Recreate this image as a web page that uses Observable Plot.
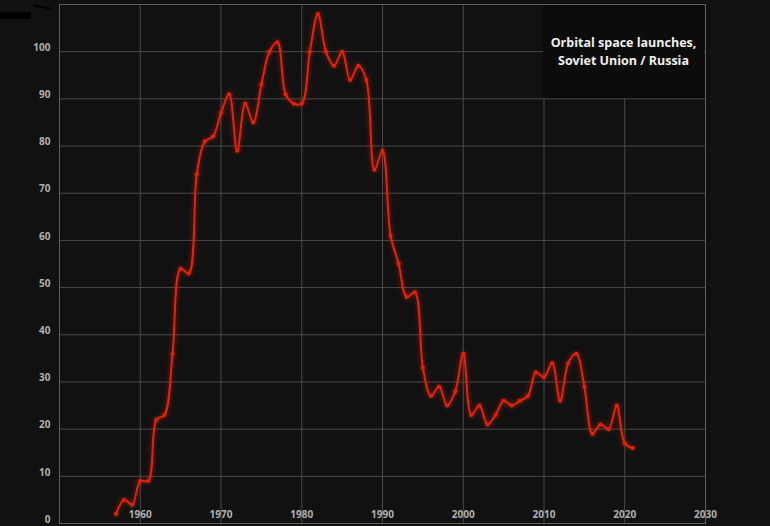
<!DOCTYPE html>
<html><head><meta charset="utf-8">
<script src="https://cdn.jsdelivr.net/npm/d3@7"></script>
<script src="https://cdn.jsdelivr.net/npm/@observablehq/plot@0.6"></script>
<style>
html,body{margin:0;padding:0;background:#111;}
#wrap{position:relative;width:770px;height:526px;overflow:hidden;background:#111;}
#title{position:absolute;left:543px;top:5px;width:161px;height:93px;background:#0c0c0c;color:#f0f0f0;font:bold 12.5px "Open Sans";display:flex;align-items:center;justify-content:center;text-align:center;line-height:18px;}
.blk1{position:absolute;left:0;top:12px;width:31px;height:7px;background:#000;}
.blk2{position:absolute;left:33px;top:6px;width:18px;height:2px;background:#000;transform:rotate(9deg);}
</style></head><body>
<div id="wrap"><div id="chart"></div><div class="blk1"></div><div class="blk2"></div><div id="title">Orbital space launches,<br>Soviet Union / Russia</div></div>
<script>
const years = [1957,1958,1959,1960,1961,1962,1963,1964,1965,1966,1967,1968,1969,1970,1971,1972,1973,1974,1975,1976,1977,1978,1979,1980,1981,1982,1983,1984,1985,1986,1987,1988,1989,1990,1991,1992,1993,1994,1995,1996,1997,1998,1999,2000,2001,2002,2003,2004,2005,2006,2007,2008,2009,2010,2011,2012,2013,2014,2015,2016,2017,2018,2019,2020,2021];
const launches = [2,5,4,9,9,22,23,36,54,53,74,81,82,87,91,79,89,85,93,100,102,91,89,89,100,108,100,97,100,94,97,94,75,79,61,55,48,49,33,27,29,25,28,36,23,25,21,23,26,25,26,27,32,31,34,26,34,36,29,19,21,20,25,17,16];
const xTicks = [1960,1970,1980,1990,2000,2010,2020,2030];
const yTicks = [0,10,20,30,40,50,60,70,80,90,100];
const gridX = [1950,1960,1970,1980,1990,2000,2010,2020,2030];
const gridY = [0,10,20,30,40,50,60,70,80,90,100,110];

const data = years.map((y,i)=>({year:y, n:launches[i]}));
const labelStyle = {fill:"#b0b0b0", fontSize:10, fontWeight:"bold", fontFamily:"Open Sans"};

const chart = Plot.plot({
  width:770, height:526,
  marginLeft:59, marginRight:65, marginTop:4, marginBottom:3,
  x:{domain:[1950,2030], axis:null},
  y:{domain:[0,110], axis:null},
  style:{background:"#111", overflow:"visible"},
  marks:[
    Plot.gridX(gridX, {stroke:"#4a4a4a", strokeOpacity:1}),
    Plot.gridY(gridY, {stroke:"#4a4a4a", strokeOpacity:1}),
    Plot.frame({stroke:"#5e5e5e"}),
    Plot.line(data, {x:"year", y:"n", curve:"catmull-rom", stroke:"#ee1c0a", strokeWidth:2}),
    Plot.dot(data, {x:"year", y:"n", r:2, fill:"#ee1c0a"}),
    Plot.text(xTicks, {x:d=>d, y:0, dy:-9, text:d=>String(d), ...labelStyle}),
    Plot.text(yTicks, {x:1950, y:d=>d, dx:-9, dy:-4, textAnchor:"end", text:d=>String(d), ...labelStyle})
  ]
});
document.getElementById("chart").appendChild(chart);

const ns = "http://www.w3.org/2000/svg";
const defs = document.createElementNS(ns, "defs");
defs.innerHTML = `<filter id="glow" filterUnits="userSpaceOnUse" x="0" y="0" width="770" height="526">
  <feGaussianBlur in="SourceAlpha" stdDeviation="2.4" result="b"/>
  <feFlood flood-color="#e03a10" flood-opacity="0.55"/>
  <feComposite in2="b" operator="in" result="g"/>
  <feMerge><feMergeNode in="g"/><feMergeNode in="SourceGraphic"/></feMerge>
</filter>`;
chart.insertBefore(defs, chart.firstChild);
chart.querySelectorAll('g[aria-label="line"], g[aria-label="dot"]').forEach(g=>g.setAttribute("filter","url(#glow)"));
</script>
</body></html>
